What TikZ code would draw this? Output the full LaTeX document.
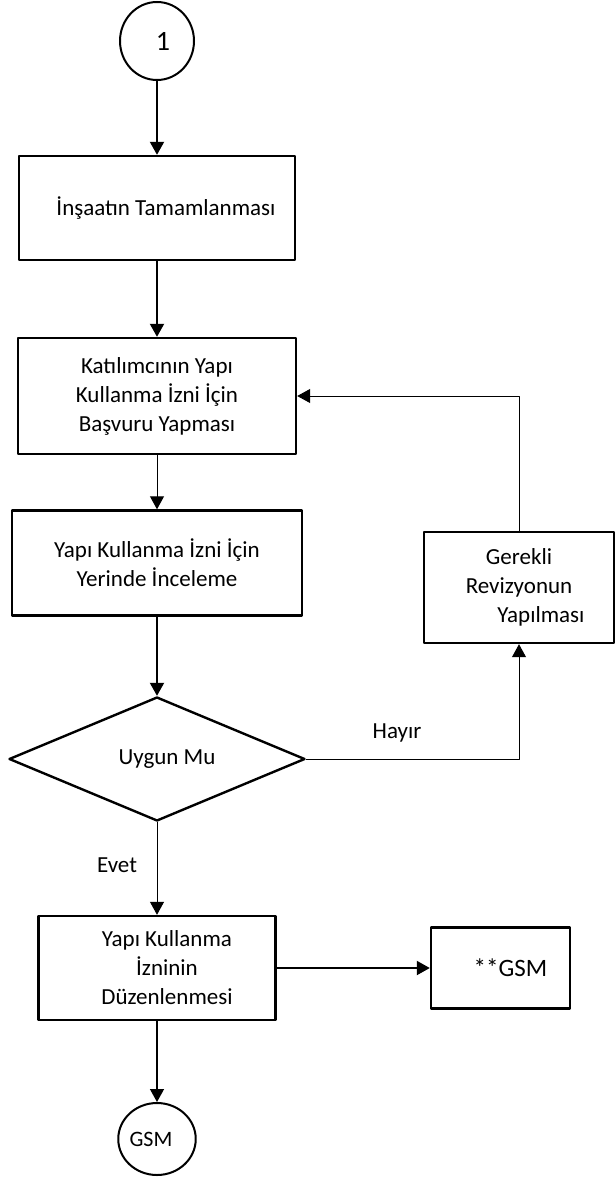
\documentclass[tikz,border=0pt]{standalone}
\usepackage{fontspec}
\setmainfont{Carlito}
\usetikzlibrary{arrows.meta,shapes.geometric}

\tikzset{
	kutu/.style={draw,line width=1.2pt,align=center,inner sep=0pt},
	ok/.style={line width=0.5pt,-{Triangle[length=6.5pt,width=7pt]}},
	kalinok/.style={line width=1pt,-{Triangle[length=6.5pt,width=7pt]}},
}

\begin{document}
\begin{tikzpicture}[line join=round,font=\fontsize{11.5}{14.5}\selectfont,x=0.5pt,y=-0.5pt]
	\useasboundingbox (0,0) rectangle (615,1177);
	
	% ana sutun
	\node[ellipse,draw,line width=1pt,minimum width=37pt,minimum height=39pt,inner sep=0pt,font=\fontsize{14}{16}\selectfont] (bas) at (157,41) {\hspace*{6pt}1};
	\node[kutu,minimum width=138pt,minimum height=52pt] (insaat) at (157,208) {\hspace*{9pt}İnşaatın Tamamlanması};
	\node[kutu,minimum width=139pt,minimum height=58pt] (basvuru) at (157,396) {Katılımcının Yapı\\Kullanma İzni İçin\\Başvuru Yapması};
	\node[kutu,minimum width=145pt,minimum height=52.5pt] (inceleme) at (157,563) {Yapı Kullanma İzni İçin\\Yerinde İnceleme};
	\node[diamond,draw,line width=1.2pt,minimum width=148pt,minimum height=62pt,aspect=2.4,inner sep=0pt] (uygun) at (157,759) {\hspace*{10pt}Uygun Mu};
	\node[kutu,minimum width=118.5pt,minimum height=52pt] (duzenleme) at (157,968) {\hspace*{10pt}Yapı Kullanma\\\hspace*{10pt}İzninin\\\hspace*{10pt}Düzenlenmesi};
	\node[ellipse,draw,line width=1pt,minimum width=36.5pt,minimum height=36pt,inner sep=0pt,font=\fontsize{11}{13}\selectfont] (gsm) at (157,1139) {GSM\hspace*{6pt}};
	
	% sag taraf
	\node[kutu,minimum width=95pt,minimum height=55.5pt] (revizyon) at (519,587.5) {Gerekli\\Revizyonun\\\hspace*{22pt}Yapılması};
	\node[kutu,minimum width=69.5pt,minimum height=40.5pt,font=\fontsize{12.5}{15}\selectfont] (gsmkutu) at (500.5,968) {\hspace*{10pt}**GSM};
	
	\node (hayir) at (397,733) {Hayır};
	\node (evet) at (117,865) {Evet};
	
	\draw[kalinok] (bas)--(insaat);
	\draw[kalinok] (insaat)--(basvuru);
	\draw[ok] (basvuru)--(inceleme);
	\draw[kalinok] (inceleme)--(uygun);
	\draw[ok] (uygun)--(duzenleme);
	\draw[ok] (uygun.east) -| (revizyon.south);
	\draw[ok] (revizyon.north) |- (basvuru.east);
	\draw[kalinok] (duzenleme)--(gsmkutu);
	\draw[ok,line width=0.7pt] (duzenleme)--(gsm);
\end{tikzpicture}
\end{document}
